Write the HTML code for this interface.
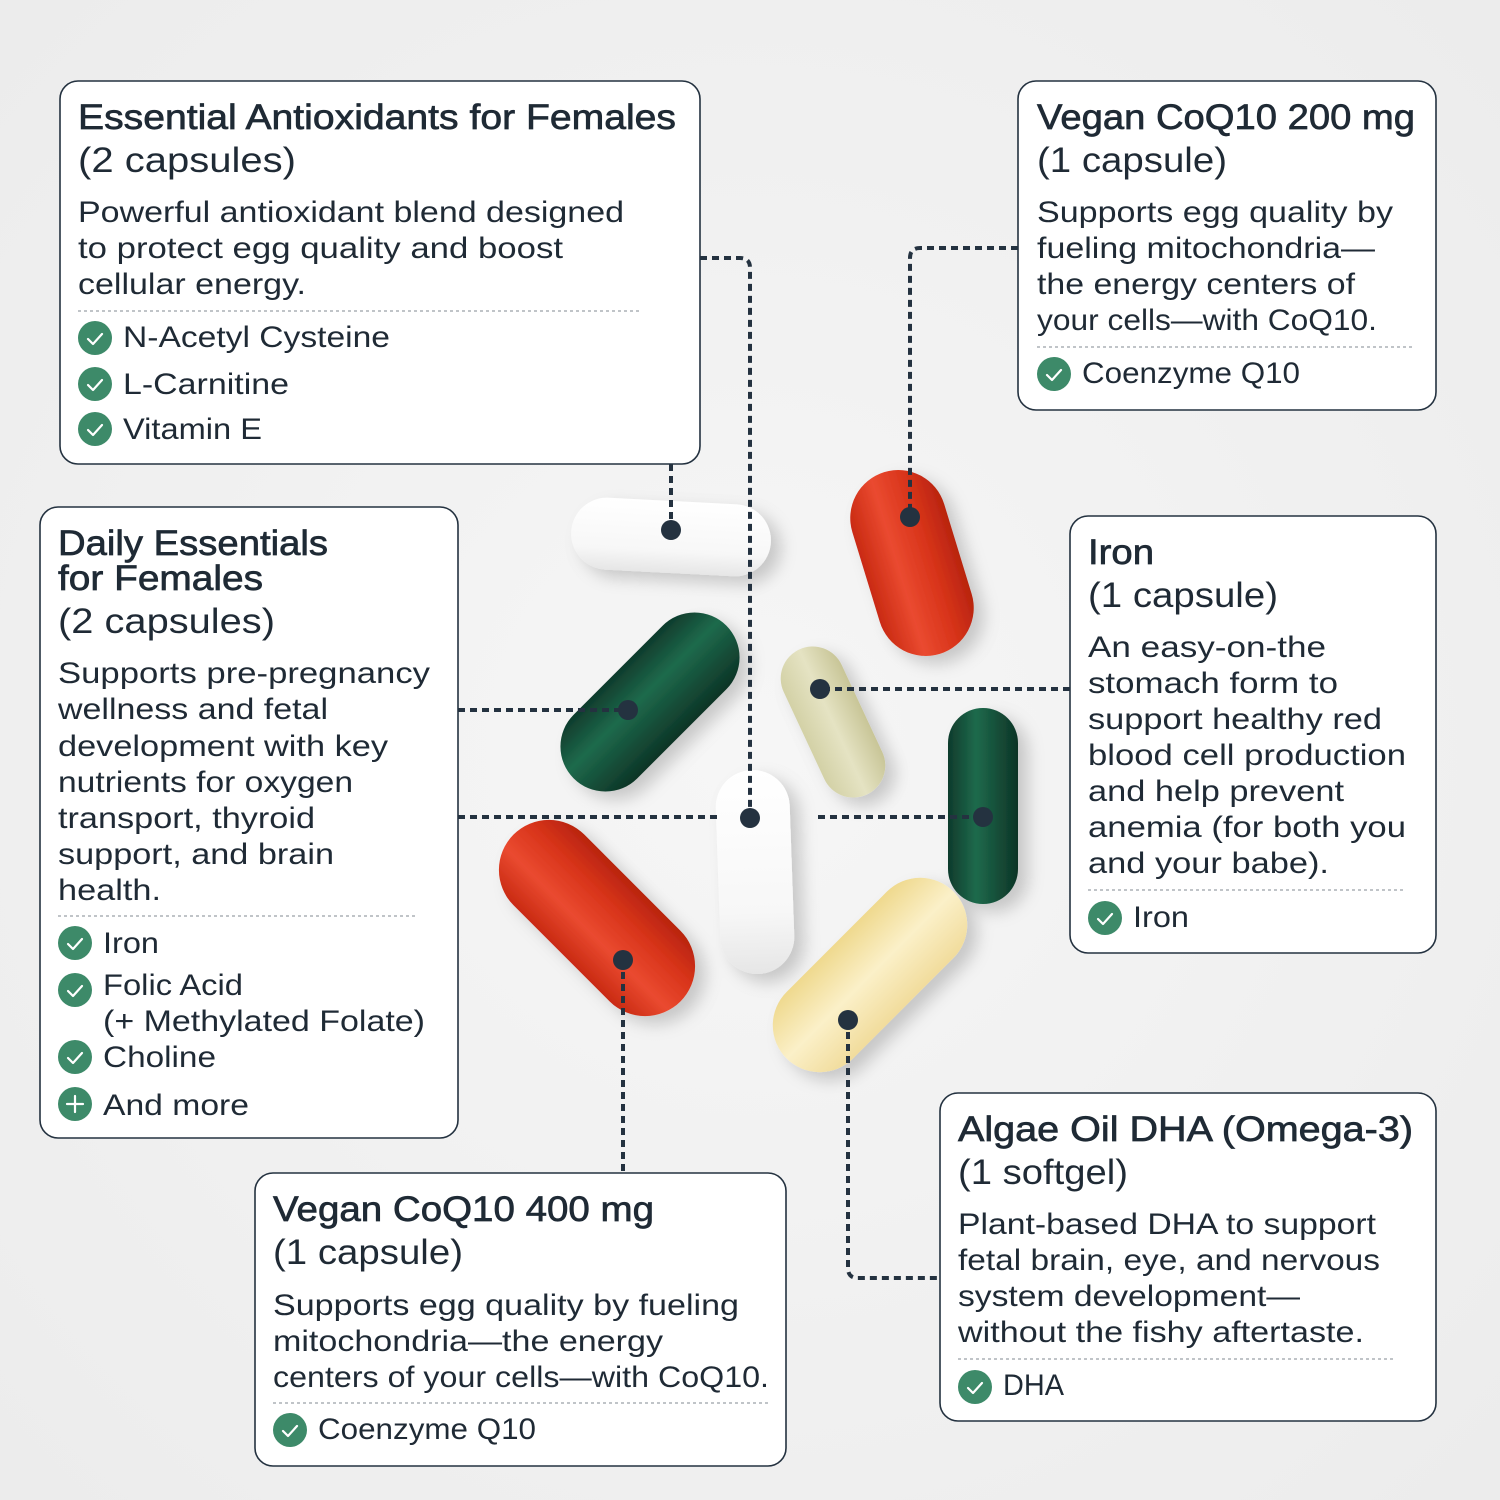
<!DOCTYPE html>
<html><head><meta charset="utf-8"><style>
html,body{margin:0;padding:0;background:#f1f1f1;}
svg{display:block}
text{font-family:"Liberation Sans",sans-serif;fill:#1f2a35;}
.t{font-size:35px;stroke:#1f2a35;stroke-width:0.7px}
.s{font-size:35px}
.b{font-size:30px}
.i{font-size:30px}
</style></head><body>
<svg width="1500" height="1500" viewBox="0 0 1500 1500" xmlns="http://www.w3.org/2000/svg">
<defs>
<radialGradient id="bg" cx="0.5" cy="0.5" r="0.7"><stop offset="0" stop-color="#f6f6f6"/><stop offset="1" stop-color="#ececec"/></radialGradient>
<linearGradient id="wh" x1="0" y1="0" x2="0" y2="1"><stop offset="0" stop-color="#ffffff"/><stop offset="0.7" stop-color="#f7f7f7"/><stop offset="1" stop-color="#e6e6e6"/></linearGradient>
<linearGradient id="rd" x1="0" y1="0" x2="1" y2="0"><stop offset="0" stop-color="#c92a12"/><stop offset="0.35" stop-color="#ea4a30"/><stop offset="0.7" stop-color="#d8341a"/><stop offset="1" stop-color="#b8240f"/></linearGradient>
<linearGradient id="gr" x1="0" y1="0" x2="1" y2="0"><stop offset="0" stop-color="#0f3b2c"/><stop offset="0.4" stop-color="#1e6a4c"/><stop offset="1" stop-color="#0d3426"/></linearGradient>
<linearGradient id="be" x1="0" y1="0" x2="1" y2="0"><stop offset="0" stop-color="#d3d1a6"/><stop offset="0.5" stop-color="#e5e3c3"/><stop offset="1" stop-color="#c8c597"/></linearGradient>
<linearGradient id="ye" x1="0" y1="0" x2="1" y2="0"><stop offset="0" stop-color="#efd98e"/><stop offset="0.5" stop-color="#fbf0c8"/><stop offset="1" stop-color="#f1dc9c"/></linearGradient>
<filter id="sh" x="-30%" y="-30%" width="160%" height="160%"><feDropShadow dx="10" dy="8" stdDeviation="8" flood-color="#000" flood-opacity="0.18"/></filter>
</defs>
<rect width="1500" height="1500" fill="url(#bg)"/>

<!-- pills -->
<g filter="url(#sh)">
<rect x="-100" y="-36" width="200" height="72" rx="36" fill="url(#wh)" transform="translate(671,537) rotate(3)"/>
<rect x="-48" y="-95" width="96" height="190" rx="48" fill="url(#rd)" transform="translate(912,563) rotate(-17)"/>
<rect x="-45" y="-108" width="90" height="216" rx="45" fill="url(#gr)" transform="translate(650,702) rotate(45)"/>
<rect x="-32" y="-80" width="64" height="160" rx="32" fill="url(#be)" transform="translate(833,722) rotate(-25)"/>
<rect x="-35" y="-98" width="70" height="196" rx="35" fill="url(#gr)" transform="translate(983,806)"/>
<rect x="-37" y="-102" width="74" height="204" rx="37" fill="url(#wh)" transform="translate(755,872) rotate(-2)"/>
<rect x="-50" y="-118" width="100" height="236" rx="50" fill="url(#rd)" transform="translate(597,918) rotate(-45)"/>
<rect x="-47" y="-118" width="94" height="236" rx="47" fill="url(#ye)" transform="translate(870,975) rotate(45)"/>
</g>

<!-- connectors -->
<g fill="none" stroke="#243240" stroke-width="4" stroke-dasharray="7 5">
<path d="M671,464 V530"/>
<path d="M700,258 H740 Q750,258 750,268 V818"/>
<path d="M1018,248 H920 Q910,248 910,258 V517"/>
<path d="M1070,689 H820"/>
<path d="M458,710 H628"/>
<path d="M458,817 H720"/>
<path d="M818,817 H983"/>
<path d="M623,960 V1173"/>
<path d="M848,1020 V1268 Q848,1278 858,1278 H940"/>
</g>
<g fill="#243240">
<circle cx="671" cy="530" r="10"/><circle cx="910" cy="517" r="10"/><circle cx="820" cy="689" r="10"/>
<circle cx="628" cy="710" r="10"/><circle cx="750" cy="818" r="10"/><circle cx="983" cy="817" r="10"/>
<circle cx="623" cy="960" r="10"/><circle cx="848" cy="1020" r="10"/>
</g>

<!-- boxes -->
<g fill="#fff" stroke="#243240" stroke-width="1.6">
<rect x="60" y="81" width="640" height="383" rx="18"/>
<rect x="1018" y="81" width="418" height="329" rx="18"/>
<rect x="40" y="507" width="418" height="631" rx="18"/>
<rect x="1070" y="516" width="366" height="437" rx="18"/>
<rect x="255" y="1173" width="531" height="293" rx="18"/>
<rect x="940" y="1093" width="496" height="328" rx="18"/>
</g>
<g stroke="#9aa0a6" stroke-width="1.3" stroke-dasharray="3 3">
<path d="M78,311 H642"/><path d="M1037,347 H1415"/><path d="M58,916 H418"/>
<path d="M1088,890 H1406"/><path d="M273,1403 H768"/><path d="M958,1359 H1395"/>
</g>

<!-- checks -->
<g>
<g fill="#3d8a69">
<circle cx="95" cy="338" r="17"/><circle cx="95" cy="384" r="17"/><circle cx="95" cy="429" r="17"/>
<circle cx="1054" cy="374" r="17"/>
<circle cx="75" cy="943" r="17"/><circle cx="75" cy="990" r="17"/><circle cx="75" cy="1057" r="17"/><circle cx="75" cy="1104" r="17"/>
<circle cx="1105" cy="918" r="17"/>
<circle cx="290" cy="1430" r="17"/>
<circle cx="975" cy="1387" r="17"/>
</g>
<g fill="none" stroke="#fff" stroke-width="2.2" stroke-linecap="round" stroke-linejoin="round">
<path d="M88,339 l5,5 l9,-10"/><path d="M88,385 l5,5 l9,-10"/><path d="M88,430 l5,5 l9,-10"/>
<path d="M1047,375 l5,5 l9,-10"/>
<path d="M68,944 l5,5 l9,-10"/><path d="M68,991 l5,5 l9,-10"/><path d="M68,1058 l5,5 l9,-10"/>
<path d="M67,1104 h16 M75,1096 v16"/>
<path d="M1098,919 l5,5 l9,-10"/>
<path d="M283,1431 l5,5 l9,-10"/>
<path d="M968,1388 l5,5 l9,-10"/>
</g>
</g>

<!-- Box1 -->
<text class="t" x="78" y="129" textLength="598" lengthAdjust="spacingAndGlyphs">Essential Antioxidants for Females</text>
<text class="s" x="78" y="172" textLength="218" lengthAdjust="spacingAndGlyphs">(2 capsules)</text>
<text class="b" x="78" y="222" textLength="546" lengthAdjust="spacingAndGlyphs">Powerful antioxidant blend designed</text>
<text class="b" x="78" y="258" textLength="485" lengthAdjust="spacingAndGlyphs">to protect egg quality and boost</text>
<text class="b" x="78" y="294" textLength="228" lengthAdjust="spacingAndGlyphs">cellular energy.</text>
<text class="i" x="123" y="347" textLength="267" lengthAdjust="spacingAndGlyphs">N-Acetyl Cysteine</text>
<text class="i" x="123" y="394" textLength="166" lengthAdjust="spacingAndGlyphs">L-Carnitine</text>
<text class="i" x="123" y="439" textLength="139" lengthAdjust="spacingAndGlyphs">Vitamin E</text>

<!-- Box2 -->
<text class="t" x="1037" y="129" textLength="378" lengthAdjust="spacingAndGlyphs">Vegan CoQ10 200 mg</text>
<text class="s" x="1037" y="172" textLength="190" lengthAdjust="spacingAndGlyphs">(1 capsule)</text>
<text class="b" x="1037" y="222" textLength="356" lengthAdjust="spacingAndGlyphs">Supports egg quality by</text>
<text class="b" x="1037" y="258" textLength="338" lengthAdjust="spacingAndGlyphs">fueling mitochondria—</text>
<text class="b" x="1037" y="294" textLength="318" lengthAdjust="spacingAndGlyphs">the energy centers of</text>
<text class="b" x="1037" y="330" textLength="340" lengthAdjust="spacingAndGlyphs">your cells—with CoQ10.</text>
<text class="i" x="1082" y="383" textLength="218" lengthAdjust="spacingAndGlyphs">Coenzyme Q10</text>

<!-- Box3 -->
<text class="t" x="58" y="555" textLength="270" lengthAdjust="spacingAndGlyphs">Daily Essentials</text>
<text class="t" x="58" y="590" textLength="205" lengthAdjust="spacingAndGlyphs">for Females</text>
<text class="s" x="58" y="633" textLength="217" lengthAdjust="spacingAndGlyphs">(2 capsules)</text>
<text class="b" x="58" y="683" textLength="372" lengthAdjust="spacingAndGlyphs">Supports pre-pregnancy</text>
<text class="b" x="58" y="719" textLength="270" lengthAdjust="spacingAndGlyphs">wellness and fetal</text>
<text class="b" x="58" y="756" textLength="330" lengthAdjust="spacingAndGlyphs">development with key</text>
<text class="b" x="58" y="792" textLength="295" lengthAdjust="spacingAndGlyphs">nutrients for oxygen</text>
<text class="b" x="58" y="828" textLength="257" lengthAdjust="spacingAndGlyphs">transport, thyroid</text>
<text class="b" x="58" y="864" textLength="276" lengthAdjust="spacingAndGlyphs">support, and brain</text>
<text class="b" x="58" y="900" textLength="103" lengthAdjust="spacingAndGlyphs">health.</text>
<text class="i" x="103" y="953" textLength="56" lengthAdjust="spacingAndGlyphs">Iron</text>
<text class="i" x="103" y="995" textLength="140" lengthAdjust="spacingAndGlyphs">Folic Acid</text>
<text class="i" x="103" y="1031" textLength="322" lengthAdjust="spacingAndGlyphs">(+ Methylated Folate)</text>
<text class="i" x="103" y="1067" textLength="113" lengthAdjust="spacingAndGlyphs">Choline</text>
<text class="i" x="103" y="1115" textLength="146" lengthAdjust="spacingAndGlyphs">And more</text>

<!-- Box4 -->
<text class="t" x="1088" y="564" textLength="66" lengthAdjust="spacingAndGlyphs">Iron</text>
<text class="s" x="1088" y="607" textLength="190" lengthAdjust="spacingAndGlyphs">(1 capsule)</text>
<text class="b" x="1088" y="657" textLength="238" lengthAdjust="spacingAndGlyphs">An easy-on-the</text>
<text class="b" x="1088" y="693" textLength="250" lengthAdjust="spacingAndGlyphs">stomach form to</text>
<text class="b" x="1088" y="729" textLength="294" lengthAdjust="spacingAndGlyphs">support healthy red</text>
<text class="b" x="1088" y="765" textLength="318" lengthAdjust="spacingAndGlyphs">blood cell production</text>
<text class="b" x="1088" y="801" textLength="256" lengthAdjust="spacingAndGlyphs">and help prevent</text>
<text class="b" x="1088" y="837" textLength="318" lengthAdjust="spacingAndGlyphs">anemia (for both you</text>
<text class="b" x="1088" y="873" textLength="241" lengthAdjust="spacingAndGlyphs">and your babe).</text>
<text class="i" x="1133" y="927" textLength="56" lengthAdjust="spacingAndGlyphs">Iron</text>

<!-- Box5 -->
<text class="t" x="273" y="1221" textLength="381" lengthAdjust="spacingAndGlyphs">Vegan CoQ10 400 mg</text>
<text class="s" x="273" y="1264" textLength="190" lengthAdjust="spacingAndGlyphs">(1 capsule)</text>
<text class="b" x="273" y="1315" textLength="466" lengthAdjust="spacingAndGlyphs">Supports egg quality by fueling</text>
<text class="b" x="273" y="1351" textLength="390" lengthAdjust="spacingAndGlyphs">mitochondria—the energy</text>
<text class="b" x="273" y="1387" textLength="496" lengthAdjust="spacingAndGlyphs">centers of your cells—with CoQ10.</text>
<text class="i" x="318" y="1439" textLength="218" lengthAdjust="spacingAndGlyphs">Coenzyme Q10</text>

<!-- Box6 -->
<text class="t" x="958" y="1141" textLength="455" lengthAdjust="spacingAndGlyphs">Algae Oil DHA (Omega-3)</text>
<text class="s" x="958" y="1184" textLength="170" lengthAdjust="spacingAndGlyphs">(1 softgel)</text>
<text class="b" x="958" y="1234" textLength="418" lengthAdjust="spacingAndGlyphs">Plant-based DHA to support</text>
<text class="b" x="958" y="1270" textLength="422" lengthAdjust="spacingAndGlyphs">fetal brain, eye, and nervous</text>
<text class="b" x="958" y="1306" textLength="342" lengthAdjust="spacingAndGlyphs">system development—</text>
<text class="b" x="958" y="1342" textLength="406" lengthAdjust="spacingAndGlyphs">without the fishy aftertaste.</text>
<text class="i" x="1003" y="1395" textLength="61" lengthAdjust="spacingAndGlyphs">DHA</text>
</svg>
</body></html>
